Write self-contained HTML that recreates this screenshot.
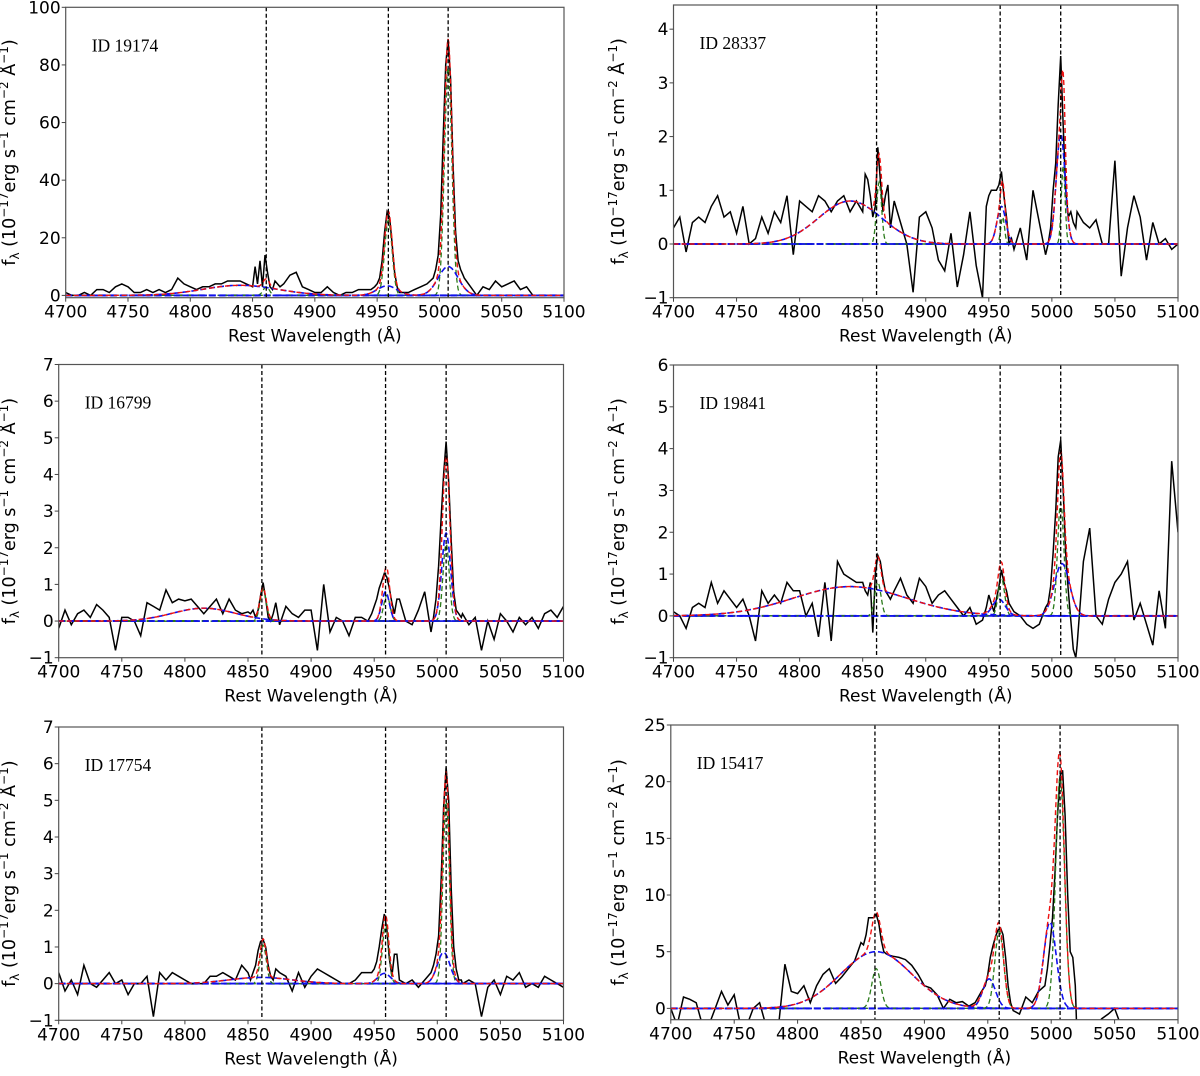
<!DOCTYPE html>
<html><head><meta charset="utf-8">
<style>
html,body{margin:0;padding:0;background:#fff;}
svg text{font-family:"DejaVu Sans","Liberation Sans",sans-serif;}
</style></head>
<body>
<svg id="fig" width="1200" height="1071" viewBox="0 0 1200 1071" xmlns="http://www.w3.org/2000/svg"></svg>
<script>
// shared wavelength sampling grid (Å)
const waveGrid = [4700,4705,4710,4715,4720,4725,4730,4735,4740,4745,
4750,4755,4760,4765,4770,4775,4780,4785,4790,4795,
4800,4805,4810,4815,4820,4825,4830,4835,4840,4845,4850,
4852,4854,4856,4858,4860,4862,4864,4866,4868,4870,4872,
4875,4880,4885,4890,4895,4900,4905,4910,4915,4920,4925,4930,4935,4940,4945,
4948,4950,4952,4954,4956,4958,4960,4962,4964,4966,4968,4970,
4975,4980,4985,4990,4995,
4997,4999,5001,5003,5005,5007,5009,5011,5013,5015,5017,5019,
5020,5025,5030,5035,5040,5045,5050,5055,5060,5065,5070,5075,5080,5085,5090,5095,5100];

const xTicks = [4700,4750,4800,4850,4900,4950,5000,5050,5100];
const lineCenters = [4861,4959,5007];
const panelIds = ["ID 19174","ID 28337","ID 16799","ID 19841","ID 17754","ID 15417"];

const yTicks1 = [0,20,40,60,80,100];
const yTicks2 = [-1,0,1,2,3,4];
const yTicks3 = [-1,0,1,2,3,4,5,6,7];
const yTicks4 = [-1,0,1,2,3,4,5,6];
const yTicks5 = [-1,0,1,2,3,4,5,6,7];
const yTicks6 = [0,5,10,15,20,25];

const flux1 = [1,0,0,1,0,2,2,1,3,4, 3,1,1,2,1,2,1,2,6,4, 3,2,3,3,4,4,5,5,5,4,3,
10,4,12,3,14,8,3,2,5,4,3,
4,7,8,3,2,1,1,3,1,0,1,1,2,2,2,
3,4,6,12,22,29,27,18,8,3,1,1,
1,2,3,4,6,
9,14,28,55,80,89,75,45,22,12,9,7,
6,3,0,3,2,5,3,4,5,2,3,0,0,0,0,0,0];
const flux2 = [0.3,0.5,-0.15,0.4,0.5,0.4,0.7,0.9,0.5,0.6, 0.2,0.7,0.0,0.1,0.5,0.2,0.6,0.4,0.9,-0.2, 0.8,0.7,0.6,0.9,0.8,0.6,0.8,0.9,0.6,0.8,0.6,
1.3,1.2,0.9,0.5,0.7,1.8,1.2,0.6,0.9,1.1,0.3,
0.8,0.4,0.0,-0.9,0.5,0.6,0.3,-0.3,-0.5,0.2,-0.8,-0.2,0.6,-0.4,-1.0,
0.7,0.9,1.0,1.0,1.0,1.1,1.35,0.9,0.5,0.0,0.1,-0.1,
0.3,-0.3,1.0,0.4,-0.2,
0.0,0.3,1.0,1.5,2.6,3.5,2.2,1.0,0.5,0.6,0.4,0.3,
0.6,0.4,0.3,0.45,0.0,0.0,1.55,-0.6,0.3,0.9,0.5,-0.3,0.4,0.0,0.1,-0.1,0.0];
const flux3 = [-0.2,0.3,-0.1,0.2,0.3,0.1,0.45,0.3,0.1,-0.8, 0.1,0.1,0.0,-0.4,0.5,0.4,0.3,0.85,0.5,0.6, 0.55,0.6,0.4,0.2,0.4,0.6,0.2,0.6,0.3,0.2,0.25,
0.2,0.3,0.1,0.3,0.7,1.05,0.6,0.1,0.0,0.2,0.5,
-0.1,0.4,0.2,0.1,0.3,0.3,-0.8,1.0,-0.3,0.1,0.0,-0.4,0.1,0.1,0.0,
0.2,0.4,0.6,0.9,1.1,1.3,1.2,0.9,0.5,0.2,0.6,0.6,
0.0,-0.1,0.3,0.8,-0.3,
0.1,0.6,1.5,2.8,4.0,4.9,3.8,2.2,0.8,0.3,0.2,0.1,
0.2,-0.1,0.1,-0.8,0.0,-0.5,0.2,0.0,-0.3,0.1,-0.1,0.1,-0.2,0.2,0.3,0.1,0.4];
const flux4 = [0.1,0.0,-0.3,0.2,0.3,0.2,0.8,0.3,0.6,0.4, 0.2,0.4,0.0,-0.6,0.6,0.3,0.5,0.3,0.8,0.6, 0.6,0.0,0.3,-0.5,0.8,-0.6,1.3,1.0,0.9,0.8,0.8,
0.6,0.5,0.8,-0.4,1.0,1.45,1.3,0.9,0.6,0.5,0.4,
0.6,0.9,0.5,0.3,0.9,0.7,0.3,0.5,0.6,0.4,0.2,0.0,0.2,-0.2,-0.1,
0.2,0.5,0.3,0.1,0.4,0.7,1.1,0.8,0.6,0.3,0.2,0.1,
0.0,-0.2,-0.3,-0.2,0.2,
0.3,0.7,1.5,2.5,3.8,4.2,3.0,1.5,0.6,-0.1,-0.8,-1.0,
-0.7,1.3,2.1,0.0,-0.2,0.4,0.8,1.0,1.3,-0.1,0.3,-0.2,-0.7,0.6,-0.3,3.7,2.0];
const flux5 = [0.3,-0.2,0.1,-0.3,0.5,0.0,-0.1,0.1,0.3,0.0, 0.1,-0.3,0.0,0.0,0.2,-0.9,0.3,0.1,0.3,0.2, 0.1,0.0,0.0,0.0,0.2,0.2,0.3,0.2,0.1,0.5,0.3,
0.1,0.3,0.5,0.9,1.15,1.2,1.0,0.5,0.2,0.1,0.4,
0.3,0.2,-0.2,0.3,-0.1,0.2,0.4,0.3,0.2,0.1,0.0,0.0,0.1,0.3,0.3,
0.3,0.4,0.6,1.0,1.5,1.9,1.5,0.7,0.2,0.8,0.8,0.1,
0.0,0.1,-0.1,0.1,0.3,
0.5,0.8,1.3,2.8,4.8,5.9,5.0,2.6,1.0,0.4,0.1,0.1,
0.0,0.1,0.0,-0.9,-0.1,0.1,-0.3,0.2,0.1,0.3,-0.1,0.0,-0.1,0.2,0.1,0.0,-0.1];
const flux6 = [0.0,-1.5,1.0,0.8,0.5,-1.5,-1.5,0.0,1.5,0.3, 1.2,-1.5,-1.5,0.0,0.5,-1.5,-1.5,-1.5,3.9,1.5, 1.3,2.0,0.5,2.0,3.0,3.5,2.2,2.8,3.5,4.2,5.8,
5.6,6.5,8.0,8.0,8.0,8.3,7.5,6.0,5.0,4.8,4.7,
4.6,4.5,4.3,3.8,3.0,2.0,1.8,1.2,0.0,0.8,0.5,0.6,0.2,0.5,1.5,
2.0,3.0,4.5,5.5,6.3,6.9,7.1,6.5,4.5,2.0,0.5,-0.2,
-0.5,1.0,0.5,1.5,2.0,
3.5,5.5,8.0,12.0,17.0,20.5,21.0,17.0,10.0,5.0,4.5,2.0,
-1.5,-1.5,-1.5,-1.5,-0.9,-0.5,0.0,-1.5,-1.5,-1.5,-1.5,-1.5,-1.5,-1.5,-1.5,-1.5,-1.5];

// Gaussian fit components: centers, amplitudes, sigmas, kind (n = narrow/green, b = broad/blue)
const compCenter1 = [4861,4959,5007,4840,4958,5007];
const compAmp1    = [3,26,79,3.5,3.3,10];
const compSigma1  = [2.5,3,3,30,8,8];
const compKind1   = ["n","n","n","b","b","b"];
const compCenter2 = [4863,4961,5009,4840,4960,5007];
const compAmp2    = [1.15,0.5,1.45,0.8,0.7,2.05];
const compSigma2  = [2,1.5,1.5,25,3.5,3.5];
const compKind2   = ["n","n","n","b","b","b"];
const compCenter3 = [4862,4960,5007,4815,4959,5007];
const compAmp3    = [0.85,0.7,2.1,0.35,0.8,2.4];
const compSigma3  = [2.5,2.5,2.5,25,3,3.5];
const compKind3   = ["n","n","n","b","b","b"];
const compCenter4 = [4862,4960,5007,4840,4958,5008];
const compAmp4    = [0.8,0.9,2.7,0.7,0.4,1.25];
const compSigma4  = [2.5,2.5,2.5,45,5,6];
const compKind4   = ["n","n","n","b","b","b"];
const compCenter5 = [4862,4959,5007,4860,4958,5005];
const compAmp5    = [1.05,1.6,5.0,0.17,0.28,0.85];
const compSigma5  = [2.5,2.5,2.5,25,5,5];
const compKind5   = ["n","n","n","b","b","b"];
const compCenter6 = [4862,4959,5007,4862,4951,4999];
const compAmp6    = [3.5,6.8,20.4,5,2.6,7.6];
const compSigma6  = [3.5,3.5,3.5,28,5,5];
const compKind6   = ["n","n","n","b","b","b"];

const panels = [
 {x0:65.7,x1:564,y0:7.3,y1:297.7,ymin:-0.8,ymax:100,yt:yTicks1,f:flux1,c:compCenter1,a:compAmp1,s:compSigma1,k:compKind1,lx:15},
 {x0:673.5,x1:1178,y0:5,y1:297.7,ymin:-1,ymax:4.45,yt:yTicks2,f:flux2,c:compCenter2,a:compAmp2,s:compSigma2,k:compKind2,lx:624},
 {x0:58.7,x1:563.5,y0:364.5,y1:657.7,ymin:-1,ymax:7,yt:yTicks3,f:flux3,c:compCenter3,a:compAmp3,s:compSigma3,k:compKind3,green0:true,lx:15},
 {x0:673.5,x1:1178,y0:365,y1:657.7,ymin:-1,ymax:6,yt:yTicks4,f:flux4,c:compCenter4,a:compAmp4,s:compSigma4,k:compKind4,lx:624},
 {x0:58.7,x1:563.5,y0:727,y1:1020.3,ymin:-1,ymax:7,yt:yTicks5,f:flux5,c:compCenter5,a:compAmp5,s:compSigma5,k:compKind5,lx:15},
 {x0:670.8,x1:1178,y0:725,y1:1019.7,ymin:-1,ymax:25,yt:yTicks6,f:flux6,c:compCenter6,a:compAmp6,s:compSigma6,k:compKind6,lx:624}
];

const NS="http://www.w3.org/2000/svg";
const svg=document.getElementById('fig');
function mk(tag,attrs,parent){const e=document.createElementNS(NS,tag);for(const k in attrs)e.setAttribute(k,attrs[k]);(parent||svg).appendChild(e);return e;}
function gauss(w,c,a,s){return a*Math.exp(-0.5*((w-c)/s)**2);}

panels.forEach((p,i)=>{
  const g=mk('g',{});
  
  
  const xs=w=>p.x0+(w-4700)/(400)*(p.x1-p.x0);
  const ys=v=>p.y1-(v-p.ymin)/(p.ymax-p.ymin)*(p.y1-p.y0);
  const cid='clip'+i;
  const cp=mk('clipPath',{id:cid},g);
  mk('rect',{x:p.x0,y:p.y0,width:p.x1-p.x0,height:p.y1-p.y0},cp);
  const plot=mk('g',{'clip-path':'url(#'+cid+')'},g);
  
  
  const fine=[];for(let w=4700;w<=5100;w+=0.5)fine.push(w);
  const base=mk('line',{x1:p.x0,x2:p.x1,y1:ys(0),y2:ys(0),stroke:p.green0?'#2a7a1a':'#1010ee','stroke-width':2,'stroke-dasharray':'7,4'},plot);
  
  
  let d='';waveGrid.forEach((w,j)=>{d+=(j?'L':'M')+xs(w).toFixed(1)+','+ys(p.f[j]).toFixed(1);});
  const sp=mk('path',{d:d,fill:'none',stroke:'#000','stroke-width':1.5},plot);
  
  
  p.c.forEach((c,j)=>{
    let dd='';fine.forEach((w,m)=>{dd+=(m?'L':'M')+xs(w).toFixed(1)+','+ys(gauss(w,c,p.a[j],p.s[j])).toFixed(1);});
    const broad=p.k[j]==='b';
    const cp2=mk('path',{d:dd,fill:'none',stroke:broad?'#1010ee':'#2a7a1a','stroke-width':broad?1.6:1.3,'stroke-dasharray':broad?'6,3':'5,3'},plot);
    
    
  });
  let dt='';fine.forEach((w,m)=>{let v=0;p.c.forEach((c,j)=>{v+=gauss(w,c,p.a[j],p.s[j]);});dt+=(m?'L':'M')+xs(w).toFixed(1)+','+ys(v).toFixed(1);});
  const tot=mk('path',{d:dt,fill:'none',stroke:'#ee1010','stroke-width':1.4,'stroke-dasharray':'5,3'},plot);
  
  
  lineCenters.forEach(lc=>{
    const vl=mk('line',{x1:xs(lc),x2:xs(lc),y1:p.y0,y2:p.y1,stroke:'#000','stroke-width':1.3,'stroke-dasharray':'4,2.5'},g);
    
    
  });
  const fr=mk('rect',{x:p.x0,y:p.y0,width:p.x1-p.x0,height:p.y1-p.y0,fill:'none',stroke:'#555','stroke-width':1.2},g);
  
  
  xTicks.forEach(t=>{
    const x=xs(t);
    mk('line',{x1:x,x2:x,y1:p.y1,y2:p.y1+4,stroke:'#444','stroke-width':1},g);
    const tx=mk('text',{x:x,y:p.y1+20,'font-size':17,'text-anchor':'middle',fill:'#000'},g);
    tx.textContent=t;
    
    
  });
  p.yt.forEach(t=>{
    const y=ys(t);
    mk('line',{x1:p.x0-4,x2:p.x0,y1:y,y2:y,stroke:'#444','stroke-width':1},g);
    const ty=mk('text',{x:p.x0-5,y:y+6,'font-size':17,'text-anchor':'end',fill:'#000'},g);
    ty.textContent=(t<0?'\u2212':'')+Math.abs(t);
    
    
  });
  const xl=mk('text',{x:(p.x0+p.x1)/2,y:p.y1+44,'font-size':17,'text-anchor':'middle',fill:'#000'},g);
  xl.textContent='Rest Wavelength (\u00C5)';
  
  
  const yc=(p.y0+p.y1)/2, lx=p.lx;
  const yl=mk('text',{x:0,y:0,'font-size':17.5,'text-anchor':'middle',fill:'#000',transform:'translate('+lx+','+yc+') rotate(-90)'},g);
  
  
  yl.innerHTML='f<tspan font-size="12" dy="4">\u03BB</tspan><tspan dy="-4"> (10</tspan><tspan font-size="12" dy="-7">\u221217</tspan><tspan dy="7">erg s</tspan><tspan font-size="12" dy="-7">\u22121</tspan><tspan dy="7"> cm</tspan><tspan font-size="12" dy="-7">\u22122</tspan><tspan dy="7"> \u00C5</tspan><tspan font-size="12" dy="-7">\u22121</tspan><tspan dy="7">)</tspan>';
  const il=mk('text',{x:p.x0+26,y:p.y0+44,'font-size':17.5,fill:'#000'},g);
  il.style.fontFamily='"Liberation Serif", serif';
  il.textContent=panelIds[i];
  
  
});
</script>
</body></html>
